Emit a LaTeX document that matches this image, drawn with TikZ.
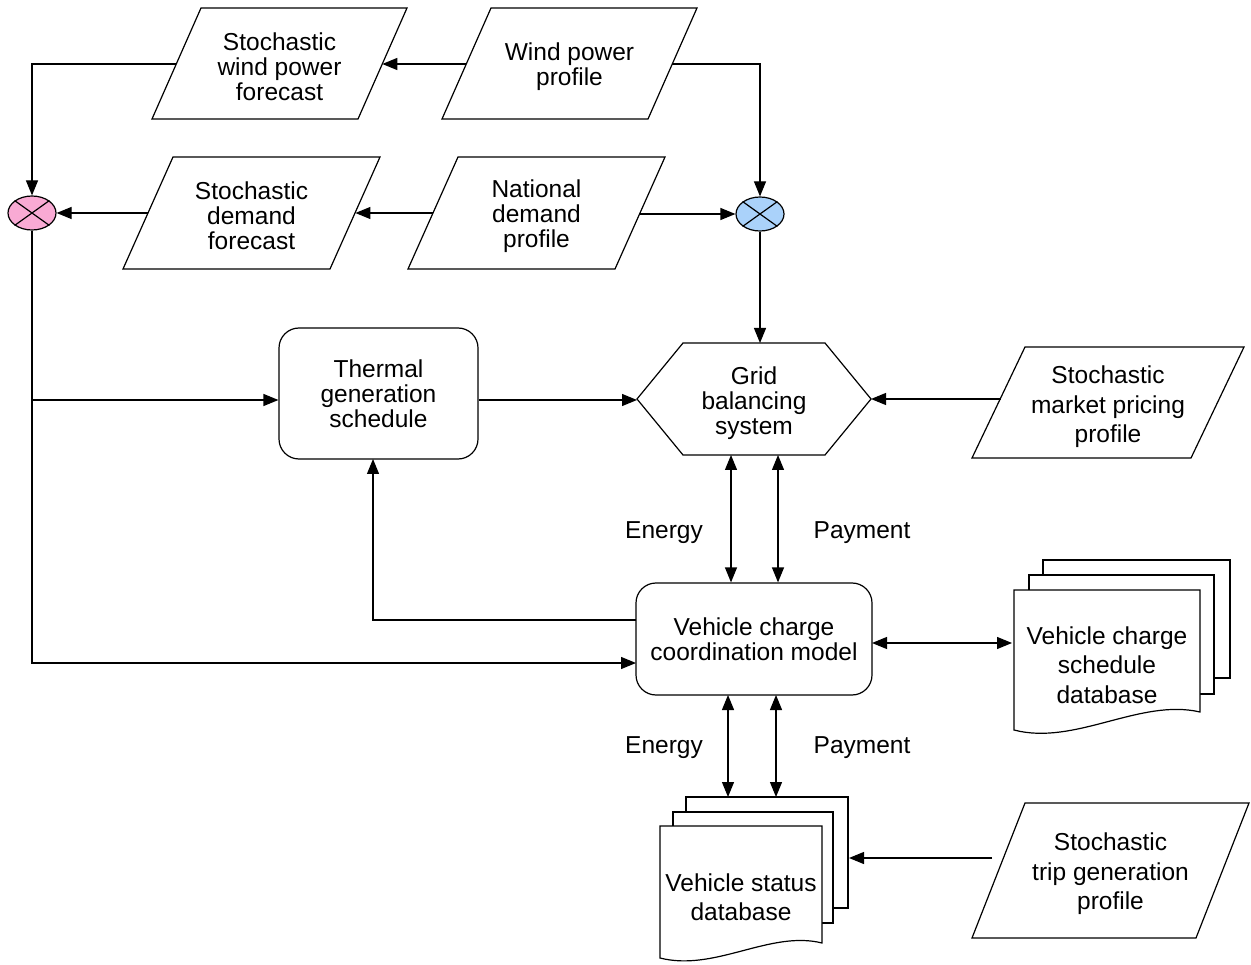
\documentclass[tikz,border=0pt]{standalone}
\usepackage{fontspec}
\setmainfont{Liberation Sans}
\usetikzlibrary{arrows.meta,shapes.geometric}
\definecolor{pinkfill}{RGB}{249,170,212}
\definecolor{bluefill}{RGB}{170,210,250}
\tikzset{
  ln/.style={line width=1.2pt, draw=black},
  arr/.style={ln, -{Triangle[length=15pt,width=12pt]}},
  darr/.style={ln, {Triangle[length=15pt,width=12pt]}-{Triangle[length=15pt,width=12pt]}},
  tight/.style={align=center, inner sep=0pt, yshift=-3pt, font=\fontsize{24.5}{25}\selectfont},
  loose/.style={align=center, inner sep=0pt, yshift=-3pt, font=\fontsize{24.5}{29.5}\selectfont},
  shapeline/.style={line width=1.2pt, draw=black, fill=white, line join=miter},
  roundbox/.style={shapeline, rounded corners=20pt, align=center, inner sep=0pt, font=\fontsize{24.5}{25}\selectfont},
  junction/.style={ellipse, ln, minimum width=48pt, minimum height=34pt, inner sep=0pt},
}
% parallelogram: #1 bottom-left x, #2 top y, #3 bottom y, #4 side width, #5 slant
\newcommand{\ioshape}[5]{%
  \draw[shapeline] ({#1+#5},#2) -- ({#1+#5+#4},#2) -- ({#1+#4},#3) -- (#1,#3) -- cycle;}
\begin{document}
\begin{tikzpicture}[x=1pt,y=-1pt]
\useasboundingbox (0,0) rectangle (1251,965);

% ---- parallelograms ----
\ioshape{152}{8}{119}{206}{49}
\node[tight] (wf) at (279.5,63.5) {Stochastic\\wind power\\forecast};
\ioshape{442}{8}{119}{206}{49}
\node[tight] (wp) at (569.5,63.5) {Wind power\\profile};
\ioshape{123}{157}{269}{207}{50}
\node[tight] (df) at (251.5,213) {Stochastic\\demand\\forecast};
\ioshape{408}{157}{269}{207}{50}
\node[tight] (nd) at (536.5,213) {National\\demand\\profile};
\ioshape{972}{347}{458}{219}{53}
\node[loose] (mp) at (1108,404) {Stochastic\\market pricing\\profile};
\ioshape{972}{803}{938}{224}{53}
\node[loose] (tg) at (1110.5,871) {Stochastic\\trip generation\\profile};

% ---- junctions ----
\node[junction, fill=pinkfill] (pk) at (32,213) {};
\draw[ln] (pk.north west) -- (pk.south east) (pk.north east) -- (pk.south west);
\node[junction, fill=bluefill] (bl) at (760,214) {};
\draw[ln] (bl.north west) -- (bl.south east) (bl.north east) -- (bl.south west);

% ---- process boxes ----
\node[roundbox, minimum width=199pt, minimum height=131pt] (thermal) at (378.5,393.5) {Thermal\\generation\\schedule};
\node[roundbox, minimum width=236pt, minimum height=112pt] (vccm) at (754,639) {Vehicle charge\\coordination model};

% ---- hexagon ----
\draw[shapeline] (637,399) -- (683,343) -- (825,343) -- (871,399) -- (825,455) -- (683,455) -- cycle;
\node[tight] (grid) at (754,400) {Grid\\balancing\\system};

% ---- document stacks ----
\draw[shapeline] (1043,560) rectangle (1230,678);
\draw[shapeline] (1029,575) rectangle (1214,694);
\draw[shapeline] (1014,590) -- (1200,590) -- (1200,712) .. controls (1140,698) and (1075,746) .. (1014,730) -- cycle;
\node[loose] (sched) at (1107,662) {Vehicle charge\\schedule\\database};

\draw[shapeline] (686,797) rectangle (848,908);
\draw[shapeline] (673,812) rectangle (833,923);
\draw[shapeline] (660,826) -- (822,826) -- (822,943) .. controls (770,930) and (715,972) .. (660,958) -- cycle;
\node[loose] (status) at (741,894) {Vehicle status\\database};

% ---- connection points ----
\coordinate (wp-w) at (466.3,64);
\coordinate (wp-e) at (672.3,64);
\coordinate (wf-e) at (382.3,64);
\coordinate (wf-w) at (176.3,64);
\coordinate (df-w) at (148.4,213);
\coordinate (df-e) at (355.4,213);
\coordinate (nd-w) at (433.4,213);
\coordinate (nd-e) at (640.4,214);
\coordinate (mp-w) at (1000.5,399);
\coordinate (tg-w) at (992,858);
\coordinate (grid-n) at (760,343);
\coordinate (grid-w) at (637,400);
\coordinate (grid-e) at (871,399);
\coordinate (g1) at (731,455);
\coordinate (g2) at (778,455);
\coordinate (br) at (32,400);
\coordinate (vc-in) at (636,663);
\coordinate (vc-out) at (636,620);
\coordinate (th-s) at (373,459);
\coordinate (vc-e) at (872,643);
\coordinate (sc-w) at (1012,643);
\coordinate (v1) at (728,695);
\coordinate (v2) at (776,695);
\coordinate (st-n1) at (728,797);
\coordinate (st-n2) at (776,797);
\coordinate (st-e) at (849,858);

% ---- connectors ----
\draw[arr] (wp-w) -- (wf-e);
\draw[arr] (wf-w) -| (pk.north);
\draw[arr] (df-w) -- (pk.east);
\draw[arr] (nd-w) -- (df-e);
\draw[arr] (nd-e) -- (bl.west);
\draw[arr] (wp-e) -| (bl.north);
\draw[arr] (bl.south) -- (grid-n);
\draw[arr] (pk.south) |- (vc-in);
\draw[arr] (br) -- (br -| thermal.west);
\draw[arr] (thermal.east |- grid-w) -- (grid-w);
\draw[arr] (mp-w) -- (grid-e);
\draw[darr] (g1) -- (g1 |- vccm.north);
\draw[darr] (g2) -- (g2 |- vccm.north);
\draw[arr] (vc-out) -| (th-s);
\draw[darr] (vc-e) -- (sc-w);
\draw[darr] (v1) -- (st-n1);
\draw[darr] (v2) -- (st-n2);
\draw[arr] (tg-w) -- (st-e);

% ---- labels ----
\node[tight] (en1) at (664,530) {Energy};
\node[tight] (pay1) at (862,530) {Payment};
\node[tight] (en2) at (664,745) {Energy};
\node[tight] (pay2) at (862,745) {Payment};
\end{tikzpicture}
\end{document}
